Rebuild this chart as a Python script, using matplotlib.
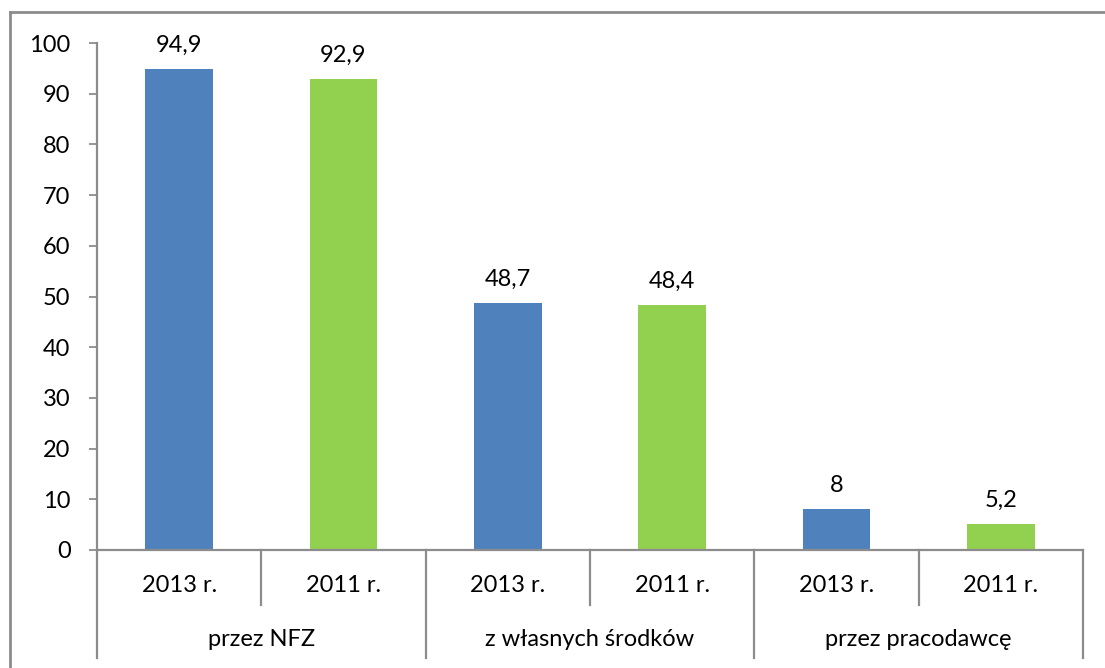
import matplotlib
matplotlib.use("Agg")
import matplotlib.pyplot as plt
from matplotlib.lines import Line2D
import matplotlib.transforms as mtransforms

groups = ["przez NFZ", "z własnych środków", "przez pracodawcę"]
years = ["2013 r.", "2011 r."]
values_2013 = [94.9, 48.7, 8]
values_2011 = [92.9, 48.4, 5.2]
labels_2013 = ["94,9", "48,7", "8"]
labels_2011 = ["92,9", "48,4", "5,2"]
yticks = [0, 10, 20, 30, 40, 50, 60, 70, 80, 90, 100]

BLUE = "#4F81BD"
GREEN = "#92D050"
GREY = "#8C8C8C"

plt.rcParams['font.family'] = ['Lato', 'DejaVu Sans']

W, H = 1105, 668
fig = plt.figure(figsize=(W / 100, H / 100), dpi=100)
fig.patch.set_facecolor("white")
ax = fig.add_axes([97 / W, 1 - 550 / H, (1083 - 97) / W, (550 - 43) / H])

FS = 17
bw = 0.41
for g in range(len(groups)):
    xb = 2 * g
    xg = 2 * g + 1
    ax.bar(xb, values_2013[g], width=bw, color=BLUE, zorder=2)
    ax.bar(xg, values_2011[g] + 0.6, bottom=-0.6, width=bw, color=GREEN, zorder=2)
    ax.annotate(labels_2013[g], (xb, values_2013[g]), xytext=(0, 17), textcoords="offset points",
                ha="center", va="center", fontsize=FS, color="black")
    ax.annotate(labels_2011[g], (xg, values_2011[g]), xytext=(0, 17), textcoords="offset points",
                ha="center", va="center", fontsize=FS, color="black")

ax.set_xlim(-0.5, 5.5)
ax.set_ylim(0, 100)
ax.set_yticks(yticks)
ax.set_yticklabels([str(t) for t in yticks], fontsize=FS)
ax.tick_params(axis="y", direction="out", length=6, width=1.3, color=GREY, pad=13)
ax.set_xticks([])

for s in ["top", "right"]:
    ax.spines[s].set_visible(False)
ax.spines["left"].set_color(GREY)
ax.spines["left"].set_linewidth(1.6)
ax.spines["bottom"].set_color(GREY)
ax.spines["bottom"].set_linewidth(1.6)

trans = mtransforms.blended_transform_factory(ax.transData, ax.transAxes)
inner_bottom = -(605 - 550) / (550 - 43)
outer_bottom = -(658 - 550) / (550 - 43)
label_y1 = -(586 - 550) / (550 - 43)
label_y2 = -(639 - 550) / (550 - 43)

# separators
for i in range(7):
    x = i - 0.5
    yb = outer_bottom if i % 2 == 0 else inner_bottom
    ax.add_line(Line2D([x, x], [0, yb], transform=trans, color=GREY, lw=1.6, clip_on=False))

for i in range(6):
    ax.text(i, label_y1, years[i % 2], transform=trans, ha="center", va="center", fontsize=FS)
for g in range(3):
    ax.text(2 * g + 0.5, label_y2, groups[g], transform=trans, ha="center", va="center", fontsize=FS)

# outer border
fig.add_artist(Line2D([9.5 / W, 9.5 / W], [0, 1 - 11.5 / H], transform=fig.transFigure, color=GREY, lw=2))
fig.add_artist(Line2D([9.5 / W, 1], [1 - 11.5 / H, 1 - 11.5 / H], transform=fig.transFigure, color=GREY, lw=2))

fig.savefig("out.png", dpi=100, facecolor="white")
